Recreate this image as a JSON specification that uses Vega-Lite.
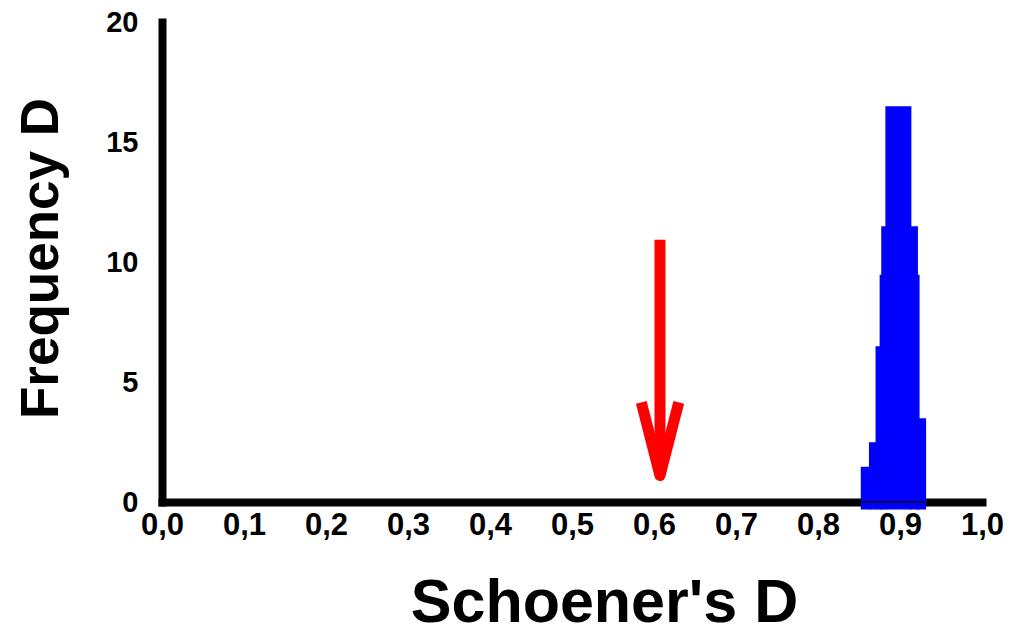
{
  "$schema": "https://vega.github.io/schema/vega-lite/v6.json",
  "width": 820,
  "height": 480,
  "autosize": "none",
  "padding": {"left": 162, "top": 22, "right": 36, "bottom": 133},
  "background": "white",
  "config": {"view": {"stroke": null}, "font": "Liberation Sans"},
  "datasets": {
    "hist": [
      {"x0": 0.853, "x1": 0.863, "freq": 1.44},
      {"x0": 0.863, "x1": 0.871, "freq": 2.46},
      {"x0": 0.871, "x1": 0.876, "freq": 6.46},
      {"x0": 0.876, "x1": 0.878, "freq": 9.44},
      {"x0": 0.878, "x1": 0.883, "freq": 11.46},
      {"x0": 0.883, "x1": 0.913, "freq": 16.46},
      {"x0": 0.913, "x1": 0.921, "freq": 11.46},
      {"x0": 0.921, "x1": 0.923, "freq": 9.44},
      {"x0": 0.923, "x1": 0.931, "freq": 3.46}
    ],
    "shaft": [{"x": 0.6073, "ytop": 10.93, "ybot": 1.1}],
    "head": [
      {"order": 1, "x": 0.5845, "y": 4.15},
      {"order": 2, "x": 0.6073, "y": 1.1},
      {"order": 3, "x": 0.6302, "y": 4.15}
    ]
  },
  "layer": [
    {
      "data": {"name": "hist"},
      "mark": {"type": "rect", "color": "#0000FF", "stroke": "#0000FF", "strokeWidth": 1.4, "clip": false},
      "encoding": {
        "x": {
          "field": "x0",
          "type": "quantitative",
          "scale": {"domain": [0, 1], "nice": false, "zero": false},
          "axis": {
            "values": [0, 0.1, 0.2, 0.3, 0.4, 0.5, 0.6, 0.7, 0.8, 0.9, 1.0],
            "labelExpr": "replace(format(datum.value, '.1f'), '.', ',')",
            "grid": false,
            "domainColor": "black",
            "domainWidth": 8,
            "domainCap": "square",
            "tickColor": "#cccccc",
            "tickSize": 4,
            "tickWidth": 1,
            "labelFont": "Liberation Sans",
            "labelFontWeight": "bold",
            "labelFontSize": 31,
            "labelColor": "black",
            "labelPadding": 4,
            "labelFlush": false,
            "labelOverlap": false,
            "title": "Schoener's D",
            "titleFont": "Liberation Sans",
            "titleFontWeight": "bold",
            "titleFontSize": 61,
            "titleColor": "black",
            "titleX": 442,
            "titleY": 119,
            "titleBaseline": "alphabetic",
            "titleAlign": "center"
          }
        },
        "x2": {"field": "x1"},
        "y": {
          "field": "freq",
          "type": "quantitative",
          "scale": {"domain": [0, 20], "nice": false},
          "axis": {
            "values": [0, 5, 10, 15, 20],
            "grid": false,
            "domainColor": "black",
            "domainWidth": 8,
            "domainCap": "square",
            "tickColor": "#cccccc",
            "tickSize": 4,
            "tickWidth": 1,
            "labelFont": "Liberation Sans",
            "labelFontWeight": "bold",
            "labelFontSize": 29,
            "labelColor": "black",
            "labelPadding": 20,
            "labelFlush": false,
            "labelOverlap": false,
            "title": "Frequency D",
            "titleFont": "Liberation Sans",
            "titleFontWeight": "bold",
            "titleFontSize": 53,
            "titleColor": "black",
            "titleX": -105,
            "titleY": 236,
            "titleAngle": -90,
            "titleBaseline": "alphabetic",
            "titleAlign": "center"
          }
        },
        "y2": {"datum": -0.28}
      }
    },
    {
      "data": {"name": "hist"},
      "mark": {"type": "rule", "color": "black", "strokeWidth": 1.5},
      "encoding": {
        "x": {"aggregate": "min", "field": "x0", "type": "quantitative"},
        "x2": {"aggregate": "max", "field": "x1"},
        "y": {"datum": 0, "type": "quantitative"}
      }
    },
    {
      "data": {"name": "shaft"},
      "mark": {"type": "rule", "color": "#FF0000", "strokeWidth": 11, "strokeCap": "butt"},
      "encoding": {
        "x": {"field": "x", "type": "quantitative"},
        "y": {"field": "ytop", "type": "quantitative"},
        "y2": {"field": "ybot"}
      }
    },
    {
      "data": {"name": "head"},
      "mark": {"type": "line", "color": "#FF0000", "strokeWidth": 11, "strokeCap": "butt", "strokeJoin": "round"},
      "encoding": {
        "x": {"field": "x", "type": "quantitative"},
        "y": {"field": "y", "type": "quantitative"},
        "order": {"field": "order", "type": "quantitative"}
      }
    }
  ]
}
